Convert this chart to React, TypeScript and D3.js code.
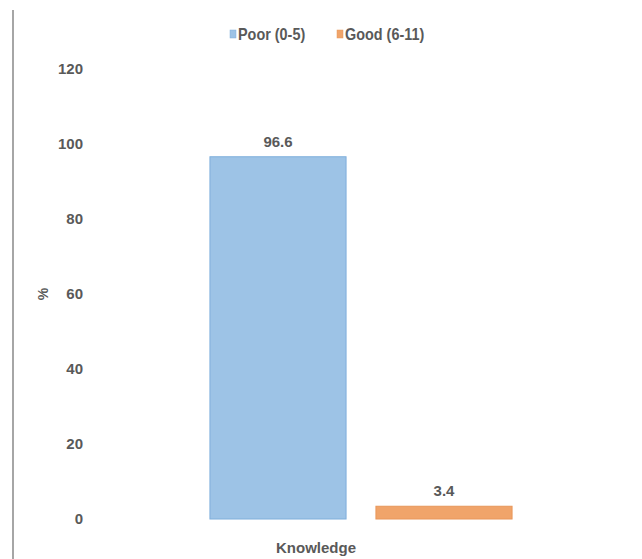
import React from "react";
import * as d3 from "d3";

const categories = ["Knowledge"];
const seriesNames = ["Poor (0-5)", "Good (6-11)"];
const seriesValues = [96.6, 3.4];
const yTicks = [0, 20, 40, 60, 80, 100, 120];
const colors = ["#9DC3E6", "#F0A46A"];
const strokes = ["#7FAEDB", "#E8965A"];

const W = 642;
const H = 559;
const FONT = "'Liberation Sans', Arial, sans-serif";
const TEXT = "#595959";

export default function App() {
  const y = d3.scaleLinear().domain([0, 120]).range([519, 69]);
  const x = d3.scaleBand<string>().domain(seriesNames).range([195, 527]).paddingInner(0.18).paddingOuter(0.09);

  return (
    <svg width={W} height={H} style={{ position: "absolute", left: 0, top: 0, background: "#fff" }}>
      <line x1={13} x2={13} y1={10} y2={H} stroke="#a6a6a6" strokeWidth={2} />
      {/* legend */}
      <g fontFamily={FONT} fontSize={16} fill={TEXT} fontWeight="bold">
        <rect x={230} y={30} width={6} height={8} fill={colors[0]} stroke={strokes[0]} strokeWidth={0.5} />
        <text x={238} y={40} transform="translate(238,0) scale(0.9,1) translate(-238,0)">{seriesNames[0]}</text>
        <rect x={337} y={30} width={6} height={8} fill={colors[1]} stroke={strokes[1]} strokeWidth={0.5} />
        <text x={345} y={40} transform="translate(345,0) scale(0.9,1) translate(-345,0)">{seriesNames[1]}</text>
      </g>
      {/* y ticks */}
      <g fontFamily={FONT} fontSize={15} fill={TEXT} fontWeight="bold">
        {yTicks.map((t) => (
          <text key={t} x={83} y={y(t)} dy="0.35em" textAnchor="end">
            {t}
          </text>
        ))}
      </g>
      <text
        transform={`translate(43,${y(60)}) rotate(-90)`}
        textAnchor="middle"
        dy="0.35em"
        fontFamily={FONT}
        fontSize={14}
        fontWeight="bold"
        fill={TEXT}
      >
        %
      </text>
      {/* bars */}
      {seriesNames.map((s, i) => (
        <g key={s}>
          <rect
            x={x(s)}
            y={y(seriesValues[i])}
            width={x.bandwidth()}
            height={y(0) - y(seriesValues[i])}
            fill={colors[i]}
            stroke={strokes[i]}
            strokeWidth={1}
          />
          <text
            x={(x(s) as number) + x.bandwidth() / 2}
            y={y(seriesValues[i]) - 10}
            textAnchor="middle"
            fontFamily={FONT}
            fontSize={15}
            fontWeight="bold"
            fill={TEXT}
          >
            {seriesValues[i]}
          </text>
        </g>
      ))}
      <text x={316} y={553} textAnchor="middle" fontFamily={FONT} fontSize={15} fontWeight="bold" fill={TEXT}>
        {categories[0]}
      </text>
    </svg>
  );
}
